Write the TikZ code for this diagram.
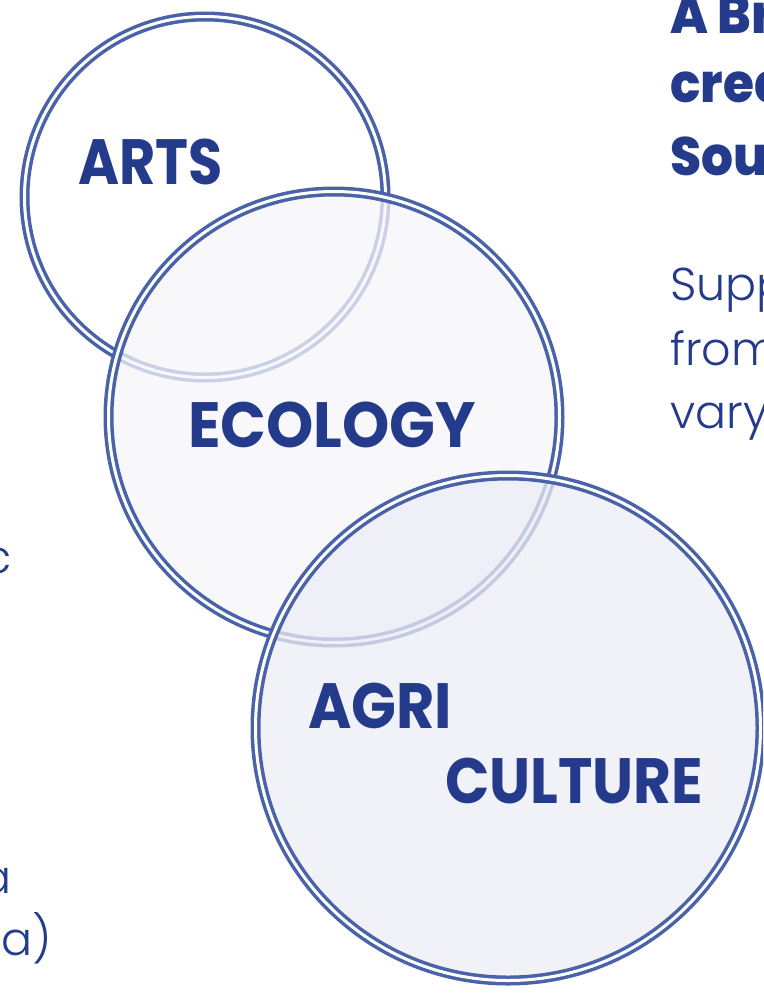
\documentclass[tikz,border=0pt]{standalone}
\usepackage{fontspec}
\setmainfont{Poppins}
\newfontfamily\lightfont{Poppins Light}
\newfontfamily\heavyfont{Poppins ExtraBold}
\definecolor{navy}{HTML}{243B8B}
\definecolor{ringblue}{HTML}{4A62A8}
\definecolor{ecofill}{RGB}{246,246,250}
\definecolor{agrifill}{RGB}{236,237,245}

\begin{document}
\begin{tikzpicture}[x=1pt,y=-1pt,
  venn/.style={circle,draw=ringblue,double=white,double distance=3pt,
    line width=3.5pt,inner sep=0pt},
  tag/.style={anchor=base west,inner sep=0pt,text=navy,xscale=#1,
    transform shape,font=\bfseries\fontsize{64}{64}\selectfont},
  tag/.default=0.91,
  head/.style={anchor=base west,inner sep=0pt,text=navy,xscale=0.93,
    transform shape,font=\heavyfont\fontsize{54}{54}\selectfont},
  body/.style={anchor=base west,inner sep=0pt,text=navy,
    font=\lightfont\fontsize{46}{46}\selectfont}]
\useasboundingbox (0,0) rectangle (763,993);
\clip (0,0) rectangle (763,993);

% circles
\node[venn,minimum size=361pt] (arts) at (205,197) {};
\node[tag=0.87] (artstxt) at (78,184) {ARTS};
\node[venn,minimum size=451pt,fill=ecofill,fill opacity=0.75] (eco) at (334,417) {};
\node[tag=0.94] (ecotxt) at (188,447) {ECOLOGY};
\node[venn,minimum size=505pt,fill=agrifill,fill opacity=0.75] (agri) at (508,728) {};
\node[tag=0.92] (agritxt) at (308,728) {AGRI};
\node[tag=0.91] (culttxt) at (445,803) {CULTURE};

% text on the right
\node[head] (h1) at (670,33) {A Br};
\node[head] (h2) at (670,102) {crea};
\node[head] (h3) at (670,175) {Sou};
\node[body] (b1) at (670,300) {Supp};
\node[body] (b2) at (670,365) {from};
\node[body] (b3) at (670,428) {varyi};

% text on the left
\node[body,anchor=base east] (l1) at (12,573) {c};
\node[body,anchor=base east] (l2) at (12,893) {a};
\node[body,anchor=base east] (l3) at (52,955) {ta)};
\end{tikzpicture}
\end{document}
